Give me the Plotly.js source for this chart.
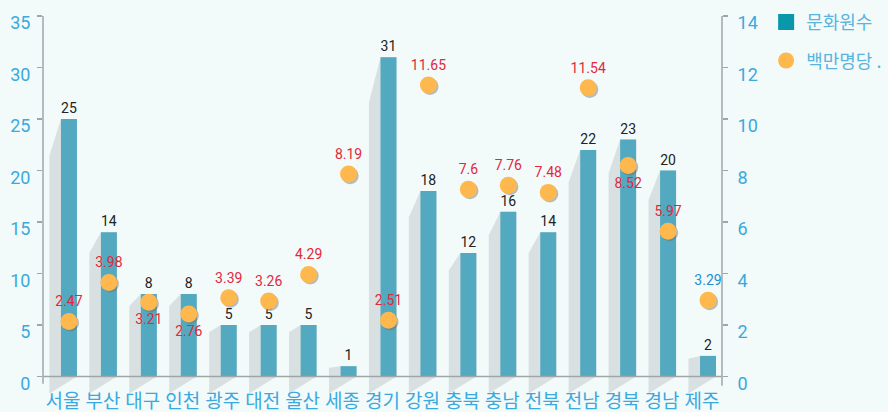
<!DOCTYPE html>
<html>
<head>
<meta charset="utf-8">
<script src="https://cdn.plot.ly/plotly-3.0.1.min.js"></script>
<style>
  html, body { margin: 0; padding: 0; background: #f2fafa; }
  #chart { width: 888px; height: 412px; }
</style>
</head>
<body>
<div id="chart"></div>
<script>
// ---- data ----
const regions = ['서울','부산','대구','인천','광주','대전','울산','세종','경기','강원','충북','충남','전북','전남','경북','경남','제주'];
const centers = [25, 14, 8, 8, 5, 5, 5, 1, 31, 18, 12, 16, 14, 22, 23, 20, 2];
const perMillion = [2.47, 3.98, 3.21, 2.76, 3.39, 3.26, 4.29, 8.19, 2.51, 11.65, 7.6, 7.76, 7.48, 11.54, 8.52, 5.97, 3.29];
const perMillionLabelPos = ['top','top','bottom','bottom','top','top','top','top','top','top','top','top','top','top','bottom','top','top'];
const leftTicks = [0, 5, 10, 15, 20, 25, 30, 35];
const rightTicks = [0, 2, 4, 6, 8, 10, 12, 14];

// ---- styling constants ----
const BAR_SHIFT = 0.15;      // bars sit right of slot centre (shadow on the left)
const BAR_W = 0.4;
const DOT_DROP = 0.33;       // dots hang below their value (top of dot at value)
const idx = regions.map((_, i) => i);
const barX = idx.map(i => i + BAR_SHIFT);

// shadow polygons derived from the bar values (drawn below the traces)
const shadowShapes = centers.map((v, i) => {
  const l = barX[i] - BAR_W / 2, r = barX[i] + BAR_W / 2;
  const pts = [[l, v], [l - 0.29, v * 0.857], [l - 0.29, -1.65], [r, 0], [r, v]];
  return {
    type: 'path', xref: 'x', yref: 'y', layer: 'below',
    path: 'M' + pts.map(p => p[0] + ',' + p[1]).join('L') + 'Z',
    fillcolor: '#d9e0e2', line: {width: 0}
  };
});

const tickFont = {family: 'Roboto, "DejaVu Sans", sans-serif', size: 18, color: '#3aa9de'};

const traces = [
  {
    type: 'bar', x: barX, y: centers, width: BAR_W, name: '문화원수',
    marker: {color: '#53a9bf', line: {width: 0}},
    text: centers.map(String), textposition: 'outside', cliponaxis: false,
    textfont: {family: 'Roboto, sans-serif', size: 14, color: '#222222'},
    showlegend: false
  },
  {
    type: 'scatter', mode: 'markers', x: [null], y: [null], name: '문화원수',
    marker: {color: '#0a97ab', symbol: 'square', size: 16},
    showlegend: true, legendgroup: 'a'
  },
  {
    type: 'scatter', mode: 'markers', x: barX.map(x => x + 0.04), y: perMillion.map(v => v - 0.06),
    yaxis: 'y2', marker: {size: 17, color: 'rgba(110,110,110,0.45)'},
    hoverinfo: 'skip', showlegend: false, cliponaxis: false
  },
  {
    type: 'scatter', mode: 'markers+text', x: barX, y: perMillion, yaxis: 'y2',
    name: '백만명당 .', legendgroup: 'b',
    marker: {size: 17, color: '#ffb84d'},
    text: perMillion.map(String),
    textposition: perMillionLabelPos.map(p => p + ' center'),
    textfont: {family: 'Roboto, sans-serif', size: 14,
      color: perMillion.map((v, i) => i === regions.length - 1 ? '#1e8fd2' : '#e2283a')},
    cliponaxis: false
  }
];

const layout = {
  width: 888, height: 412,
  margin: {l: 43, r: 166, t: 16, b: 18, autoexpand: false},
  paper_bgcolor: '#f2fafa', plot_bgcolor: '#f2fafa',
  barmode: 'overlay',
  showlegend: true,
  legend: {
    x: 1.065, xanchor: 'left', y: 1.032, yanchor: 'top',
    font: {family: '"Noto Sans CJK KR", sans-serif', size: 18, color: '#5ab4dc'},
    tracegroupgap: 12, bgcolor: 'rgba(0,0,0,0)', itemsizing: 'trace'
  },
  xaxis: {
    range: [-0.5, 16.5], tickmode: 'array', tickvals: idx, ticktext: regions,
    showgrid: false, zeroline: false, showline: false, ticks: '',
    tickfont: {family: '"Noto Sans CJK KR", sans-serif', size: 19, color: '#3aa9de'},
    ticklabelstandoff: -6
  },
  yaxis: {
    range: [-1.7, 35], tickmode: 'array', tickvals: leftTicks, ticktext: leftTicks.map(String),
    showgrid: false, zeroline: false, showline: false,
    ticks: 'outside', ticklen: 5, tickwidth: 1.5, tickcolor: '#a0a6a8',
    tickfont: tickFont, ticklabelshift: 7, ticklabelstandoff: 3
  },
  yaxis2: {
    overlaying: 'y', side: 'right',
    range: [-0.68 + DOT_DROP, 14 + DOT_DROP], tickmode: 'array',
    tickvals: rightTicks.map(t => t + DOT_DROP), ticktext: rightTicks.map(String),
    showgrid: false, zeroline: false, showline: false,
    ticks: 'outside', ticklen: 5, tickwidth: 1.5, tickcolor: '#a0a6a8',
    tickfont: tickFont, ticklabelshift: 7, ticklabelstandoff: 6
  },
  shapes: shadowShapes.concat([
    {type: 'line', xref: 'paper', x0: 0, x1: 0, yref: 'y', y0: -0.7, y1: 35,
     line: {color: '#a0a6a8', width: 1.5}, layer: 'above'},
    {type: 'line', xref: 'paper', x0: 1, x1: 1, yref: 'y', y0: -0.9, y1: 35,
     line: {color: '#a0a6a8', width: 1.5}, layer: 'above'},
    {type: 'line', xref: 'paper', x0: 0, x1: 1, yref: 'y', y0: 0, y1: 0,
     line: {color: '#a0a6a8', width: 1.5}, layer: 'above'}
  ])
};

Plotly.newPlot('chart', traces, layout, {displayModeBar: false, staticPlot: true});
</script>
</body>
</html>
